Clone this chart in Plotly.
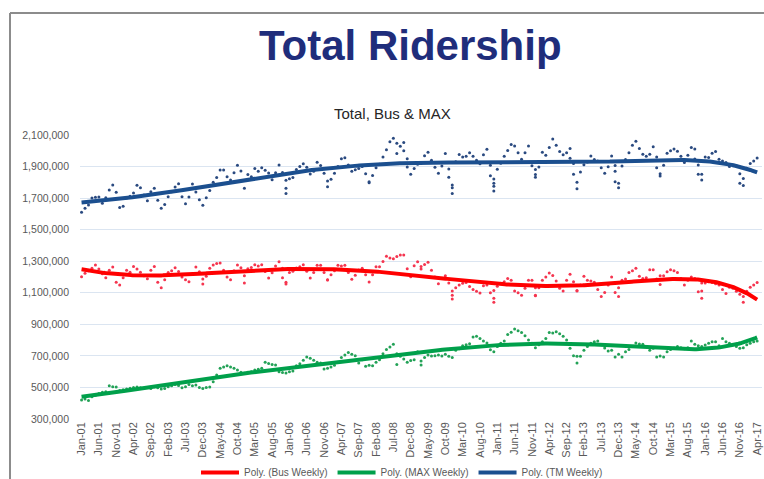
import numpy as np
import plotly.graph_objects as go
from numpy.polynomial import Polynomial

# ---------------- data (thousands of weekly riders, monthly positions) ----------------
tick_labels = ["Jan-01", "Jun-01", "Nov-01", "Apr-02", "Sep-02", "Feb-03", "Jul-03", "Dec-03",
               "May-04", "Oct-04", "Mar-05", "Aug-05", "Jan-06", "Jun-06", "Nov-06", "Apr-07",
               "Sep-07", "Feb-08", "Jul-08", "Dec-08", "May-09", "Oct-09", "Mar-10", "Aug-10",
               "Jan-11", "Jun-11", "Nov-11", "Apr-12", "Sep-12", "Feb-13", "Jul-13", "Dec-13",
               "May-14", "Oct-14", "Mar-15", "Aug-15", "Jan-16", "Jun-16", "Nov-16", "Apr-17"]

tm_weekly = [1610,1635,1656,1700,1705,1707,1667,1703,1751,1783,1737,1640,
             1648,1700,1712,1732,1781,1766,1720,1684,1740,1762,1686,1635,
             1660,1709,1740,1770,1791,1709,1665,1707,1789,1739,1690,1654,
             1703,1749,1800,1830,1878,1878,1836,1815,1861,1908,1872,1762,
             1849,1836,1887,1870,1893,1876,1859,1817,1861,1910,1863,1762,
             1823,1830,1882,1900,1918,1895,1853,1870,1927,1906,1857,1772,
             1819,1857,1900,1950,1956,1910,1870,1880,1887,1901,1855,1798,
             1844,1893,1914,1961,2007,2058,2079,2047,2028,2053,1950,1851,
             1887,1914,1920,1969,1990,1940,1895,1857,1903,1982,1884,1766,
             1931,1976,1960,1965,1988,1965,1940,1918,1975,2009,1908,1775,
             1883,1921,1965,2001,2040,2030,1988,1946,1988,2030,1905,1850,
             1897,1990,1971,2020,2075,2035,1995,1975,1988,2015,1920,1760,
             1866,1912,1929,1967,1945,1935,1893,1857,1899,1967,1870,1765,
             1904,1945,1988,2035,2060,2015,1978,1965,1978,2025,1960,1855,
             1908,1984,2000,2012,1997,1965,1925,1971,2020,2012,1910,1815,
             1960,1958,1985,1995,1946,1935,1925,1900,1905,1905,1855,1780,
             1890,1920,1935,1955]

bus_weekly = [1202,1223,1240,1255,1276,1250,1220,1196,1242,1263,1166,1149,
              1196,1242,1230,1267,1251,1230,1208,1189,1242,1267,1166,1132,
              1183,1229,1240,1259,1235,1200,1183,1170,1220,1263,1234,1187,
              1204,1255,1276,1285,1289,1242,1200,1183,1240,1276,1259,1162,
              1252,1261,1277,1270,1277,1235,1193,1227,1269,1297,1256,1155,
              1228,1236,1257,1265,1278,1236,1194,1228,1274,1274,1228,1181,
              1215,1240,1274,1270,1274,1228,1185,1211,1245,1255,1215,1168,
              1214,1265,1265,1299,1331,1320,1316,1330,1339,1339,1252,1201,
              1272,1297,1251,1280,1293,1242,1200,1158,1190,1208,1162,1060,
              1132,1150,1160,1165,1140,1120,1110,1098,1145,1150,1100,1040,
              1141,1160,1170,1191,1180,1111,1100,1085,1128,1179,1179,1081,
              1132,1179,1200,1225,1210,1174,1128,1111,1179,1217,1170,1111,
              1150,1204,1180,1175,1166,1120,1077,1102,1150,1200,1102,1077,
              1179,1187,1229,1240,1255,1204,1190,1196,1246,1246,1187,1153,
              1208,1234,1246,1240,1229,1190,1149,1180,1200,1190,1107,1065,
              1162,1170,1165,1158,1150,1120,1095,1135,1128,1110,1090,1040,
              1110,1135,1150,1165]

max_weekly = [420,427,418,441,450,462,470,473,511,505,503,480,
              485,490,495,500,503,498,495,500,494,505,498,490,
              494,505,510,519,512,498,505,519,510,515,500,494,
              500,503,536,579,621,630,638,630,621,610,596,590,
              596,600,610,615,621,659,651,645,642,600,595,591,
              600,604,638,650,672,693,685,672,660,655,617,621,
              629,640,660,690,706,722,710,701,655,676,634,640,
              638,660,676,714,740,756,773,714,697,680,659,670,
              676,727,668,690,706,700,701,705,700,710,697,689,
              735,745,765,770,777,820,824,810,794,782,739,727,
              760,780,794,836,850,870,860,849,828,800,780,752,
              770,790,811,849,845,853,840,824,800,748,701,655,
              697,735,760,780,790,794,770,750,731,735,693,710,
              693,727,740,760,782,775,773,760,735,748,693,700,
              693,727,740,750,760,752,745,752,794,773,765,760,
              769,780,790,790,765,811,790,780,770,760,748,752,
              770,780,790,795]

# extra weekly points that fall in the same month (holiday dips etc.)
tm_extra_month = [59,59,71,83,91,93,94,106,107,107,118,119,119,119,131,131,141,142,143,
                  154,154,155,166,167,177,178,179,190,191]
tm_extra_value = [1730,1813,1808,1804,1982,2000,1897,1832,1783,1730,1842,1794,1745,1821,
                  1832,1882,1952,1851,1800,1906,1804,1794,1893,1840,1948,1851,1851,1794,1825]
bus_extra_month = [35,47,58,59,71,98,107,107,119,119,131,131,143,155,167,179,179,191]
bus_extra_value = [1155,1208,1196,1166,1183,1267,1111,1085,1065,1115,1132,1085,1115,1132,
                   1208,1111,1162,1077]
max_extra_month = [91,98,143]
max_extra_value = [646,642,697]

months = list(range(len(tm_weekly)))
tick_positions = months[::5]

series = [
    ("Bus Weekly", bus_weekly, bus_extra_month, bus_extra_value, "#f5354f", "#ff0000"),
    ("MAX Weekly", max_weekly, max_extra_month, max_extra_value, "#23a257", "#00a04b"),
    ("TM Weekly", tm_weekly, tm_extra_month, tm_extra_value, "#2a4a80", "#1b4f8f"),
]

fig = go.Figure()

# dots
for name, vals, ex_m, ex_v, dot_col, line_col in series:
    xs = months + ex_m
    ys = [v * 1000 for v in vals + ex_v]
    fig.add_trace(go.Scatter(x=xs, y=ys, mode="markers", name=name, showlegend=False,
                             marker=dict(size=3, color=dot_col), hoverinfo="skip"))

# polynomial trend lines (order 6, like Excel "Poly.")
xfine = np.linspace(0, months[-1], 400)
for name, vals, ex_m, ex_v, dot_col, line_col in series:
    xs = np.array(months + ex_m, dtype=float)
    ys = np.array([v * 1000 for v in vals + ex_v], dtype=float)
    p = Polynomial.fit(xs, ys, 6)
    fig.add_trace(go.Scatter(x=xfine, y=p(xfine), mode="lines", name="Poly. (" + name + ")",
                             line=dict(color=line_col, width=4)))

# ---------------- layout (page pixels; body margin removed below) ----------------
W, H = 764, 479
PL, PR, PT, PB = 80, 762, 135, 419          # plot area in page pixels
L, R, T, B = PL, W - PR, PT, H - PB
pw, ph = PR - PL, PB - PT

def px_x(px):
    return (px - PL) / pw

def px_y(py):
    return (PB - py) / ph

font_family = "Liberation Sans, Arial, sans-serif"

fig.update_layout(
    width=W, height=H,
    margin=dict(l=L, r=R, t=T, b=B, autoexpand=False),
    paper_bgcolor="white", plot_bgcolor="white",
    font=dict(family=font_family, color="#595959", size=11),
    showlegend=True,
    legend=dict(orientation="h", x=px_x(196), xanchor="left", y=px_y(458), yanchor="top",
                font=dict(size=10, color="#595959"), bgcolor="rgba(0,0,0,0)",
                itemwidth=38, tracegroupgap=0),
    xaxis=dict(range=[-0.45, 196.4], tickmode="array", tickvals=tick_positions,
               ticktext=tick_labels, tickangle=-90, showgrid=False, zeroline=False,
               showline=False, ticks="", tickfont=dict(size=11, color="#595959")),
    yaxis=dict(range=[300000, 2100000], tickmode="array",
               tickvals=list(range(300000, 2100001, 200000)), tickformat=",",
               showgrid=True, gridcolor="#dbe5f1", gridwidth=1.2, zeroline=False,
               showline=False, ticks="", ticklabelstandoff=10,
               tickfont=dict(size=10.5, color="#595959")),
    annotations=[
        dict(text="<b>Total Ridership</b>", xref="paper", yref="paper",
             x=px_x(410), y=px_y(45), xanchor="center", yanchor="middle", showarrow=False,
             font=dict(family=font_family, size=42, color="#1f2d7b")),
        dict(text="Total, Bus & MAX", xref="paper", yref="paper",
             x=px_x(392), y=px_y(113), xanchor="center", yanchor="middle", showarrow=False,
             font=dict(family=font_family, size=15, color="#262626")),
    ],
    shapes=[
        dict(type="line", xref="paper", yref="paper", x0=px_x(10), x1=px_x(770),
             y0=px_y(13), y1=px_y(13), line=dict(color="#8c8c8c", width=2)),
        dict(type="line", xref="paper", yref="paper", x0=px_x(10), x1=px_x(10),
             y0=px_y(13), y1=px_y(485), line=dict(color="#8c8c8c", width=2)),
    ],
)

fig.write_html("out.html",
               config={"displayModeBar": False},
               post_script="document.body.style.margin='0';"
                           "document.body.style.overflow='hidden';")
